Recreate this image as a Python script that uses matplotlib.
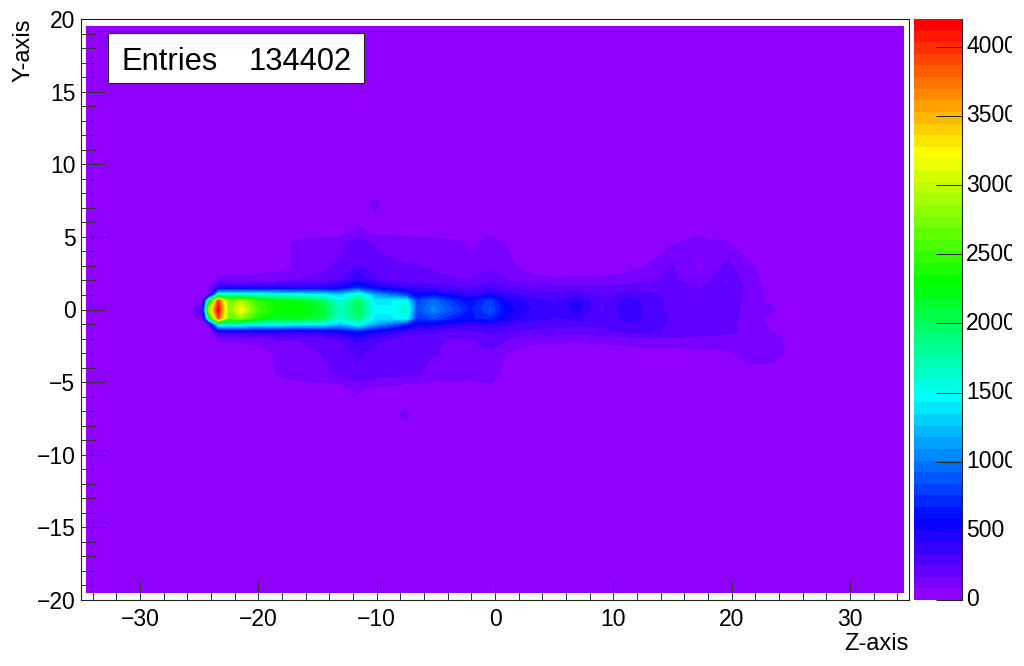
import numpy as np
from matplotlib import pyplot as plt
from matplotlib.colors import LinearSegmentedColormap, BoundaryNorm
from matplotlib.patches import Rectangle
from matplotlib.ticker import MultipleLocator
from matplotlib.transforms import Bbox

plt.rcParams['font.family'] = ['Liberation Sans', 'DejaVu Sans']

# bin positions
z_pos = [-26, -24.7, -24.2, -23.4, -22.5, -21.5, -20, -18.2, -16.8, -14.6, -13.1, -11.6, -10.1, -8.9, -7.5, -6.6,
         -5.2, -3.2, -2.1, -0.4, 1, 3, 5, 7, 9, 11.4, 13, 15, 17.3, 19.6, 21.5, 23.5, 25.5]
y_pos = [-8.5, -7.3, -5.5, -4.5, -3, -2, -1.5, -1, -0.6, 0, 0.6, 1, 1.5, 2, 3, 4.5, 5.5, 7.3, 8.5]

# counts per row, one value per z_pos
row_m85 = [0] * 33
row_m73 = [0, 0, 0, 0, 0, 0, 0, 0, 0, 0, 0, 0, 10, 40, 110, 30, 0, 0, 0, 0, 0, 0, 0, 0, 0, 0, 0, 0, 0, 0, 0, 0, 0]
row_m55 = [0, 0, 0, 0, 0, 0, 0, 0, 10, 20, 30, 100, 50, 40, 30, 20, 10, 10, 10, 20, 0, 0, 0, 0, 0, 0, 0, 0, 0, 0, 0, 0, 0]
row_m45 = [0, 0, 0, 0, 0, 0, 0, 100, 130, 160, 170, 230, 200, 190, 170, 170, 150, 150, 120, 160, 30, 0, 0, 0, 0, 0, 0, 0, 0, 30, 40, 0, 0]
row_m30 = [0, 0, 0, 10, 20, 20, 30, 110, 140, 170, 200, 270, 220, 210, 190, 170, 170, 160, 130, 160, 80, 20, 10, 20, 10, 30, 40, 30, 60, 70, 130, 150, 20]
row_m20 = [0, 0, 10, 100, 110, 110, 130, 180, 170, 200, 260, 400, 290, 240, 200, 190, 180, 160, 170, 200, 180, 130, 120, 110, 120, 140, 160, 160, 150, 130, 120, 120, 30]
row_m15 = [0, 0, 40, 400, 440, 420, 420, 420, 420, 430, 500, 650, 500, 430, 340, 310, 280, 240, 240, 280, 260, 230, 220, 200, 230, 280, 270, 230, 200, 200, 130, 80, 0]
row_m10 = [0, 0, 150, 1600, 1650, 1600, 1500, 1500, 1450, 1450, 1250, 1500, 1150, 950, 700, 520, 500, 400, 350, 380, 350, 300, 280, 280, 270, 320, 280, 240, 220, 220, 110, 70, 0]
row_m06 = [0, 150, 1800, 3900, 2600, 2800, 2350, 2150, 2250, 2050, 1600, 1900, 1400, 1400, 1500, 750, 850, 650, 650, 720, 500, 380, 330, 350, 260, 390, 310, 240, 200, 230, 110, 60, 0]
row_p00 = [0, 300, 2900, 4150, 2750, 3250, 2550, 2300, 2350, 2150, 1650, 2050, 1450, 1450, 1650, 850, 1050, 800, 650, 850, 550, 420, 350, 460, 230, 400, 300, 220, 180, 230, 120, 100, 0]
row_p06 = [0, 150, 1800, 3900, 2700, 2900, 2450, 2250, 2250, 2000, 1550, 1950, 1400, 1400, 1500, 800, 950, 700, 600, 800, 500, 380, 320, 420, 250, 380, 300, 230, 170, 240, 130, 60, 0]
row_p10 = [0, 0, 150, 1600, 1650, 1600, 1600, 1550, 1500, 1450, 1300, 1650, 1150, 1000, 800, 580, 620, 450, 350, 480, 350, 300, 280, 320, 230, 300, 270, 240, 180, 250, 120, 50, 0]
row_p15 = [0, 0, 40, 400, 450, 440, 430, 430, 430, 440, 500, 720, 500, 430, 360, 330, 300, 260, 240, 320, 260, 220, 190, 200, 190, 220, 230, 220, 160, 260, 140, 40, 0]
row_p20 = [0, 0, 10, 110, 120, 120, 130, 150, 170, 190, 260, 430, 280, 250, 200, 190, 180, 170, 170, 210, 170, 130, 100, 100, 100, 120, 160, 180, 130, 230, 130, 30, 0]
row_p30 = [0, 0, 0, 10, 20, 20, 30, 40, 100, 150, 180, 260, 190, 180, 170, 170, 160, 150, 130, 150, 110, 30, 20, 40, 30, 60, 90, 170, 60, 190, 100, 20, 0]
row_p45 = [0, 0, 0, 0, 0, 0, 0, 10, 120, 140, 150, 220, 160, 150, 150, 140, 130, 120, 60, 150, 80, 0, 0, 0, 0, 0, 20, 80, 150, 100, 20, 0, 0]
row_p55 = [0, 0, 0, 0, 0, 0, 0, 0, 10, 10, 20, 100, 40, 40, 20, 20, 10, 10, 10, 30, 0, 0, 0, 0, 0, 0, 0, 0, 20, 0, 0, 0, 0]
row_p73 = [0, 0, 0, 0, 0, 0, 0, 0, 0, 0, 30, 40, 110, 20, 0, 0, 0, 0, 0, 0, 0, 0, 0, 0, 0, 0, 0, 0, 0, 0, 0, 0, 0]
row_p85 = [0] * 33

z_tick_labels = [-30, -20, -10, 0, 10, 20, 30]
y_tick_labels = [-20, -15, -10, -5, 0, 5, 10, 15, 20]
color_ticks = [0, 500, 1000, 1500, 2000, 2500, 3000, 3500, 4000]
entries = 134402
count_max = 4200
n_contours = 50

W, H = 1024, 666


def px_axes(fig, left, top, right, bottom):
    return fig.add_axes([left / W, 1 - bottom / H, (right - left) / W, (bottom - top) / H])


counts = np.array([row_m85, row_m73, row_m55, row_m45, row_m30, row_m20, row_m15, row_m10, row_m06, row_p00,
                   row_p06, row_p10, row_p15, row_p20, row_p30, row_p45, row_p55, row_p73, row_p85], dtype=float)
# everything outside the listed bins is empty, up to the edge of the histogram
counts = np.pad(counts, 1)
z_grid = [-34.5] + z_pos + [34.5]
y_grid = [-19.5] + y_pos + [19.5]

# ROOT rainbow palette, cut into 50 bands
rainbow = LinearSegmentedColormap.from_list("root_rainbow", [
    (0.0, "#8f00ff"), (550 / count_max, "#0000ff"), (1450 / count_max, "#00ffff"),
    (2300 / count_max, "#00ff00"), (3250 / count_max, "#ffff00"), (1.0, "#ff0000")], N=n_contours)
levels = np.linspace(0, count_max, n_contours + 1)
norm = BoundaryNorm(levels, n_contours)

fig = plt.figure(figsize=(W / 100, H / 100), dpi=100)
ax = px_axes(fig, 81, 19, 909, 600)
ax.contourf(z_grid, y_grid, counts, levels=levels, cmap=rainbow, norm=norm, extend="max")
ax.set_xlim(-35, 35)
ax.set_ylim(-20, 20)

ax.set_xticks(z_tick_labels)
ax.set_yticks(y_tick_labels)
ax.set_xticklabels([str(v).replace("-", "\u2212") for v in z_tick_labels])
ax.set_yticklabels([str(v).replace("-", "\u2212") for v in y_tick_labels])
ax.xaxis.set_minor_locator(MultipleLocator(2))
ax.yaxis.set_minor_locator(MultipleLocator(1))
ax.tick_params(axis="x", which="major", direction="in", length=13, width=0.7, color="#333333", labelsize=16.5, pad=6)
ax.tick_params(axis="x", which="minor", direction="in", length=6.5, width=0.7, color="#333333")
ax.tick_params(axis="y", which="major", direction="in", length=17, width=0.7, color="#333333", labelsize=16.5, pad=4)
ax.tick_params(axis="y", which="minor", direction="in", length=10, width=0.7, color="#333333")
for spine in ax.spines.values():
    spine.set_linewidth(0.8)
    spine.set_color("#222222")

fig.text(909 / W, 1 - 650 / H, "Z-axis", ha="right", va="baseline", fontsize=17)
fig.text(35 / W, 1 - 19 / H, "Y-axis", ha="right", va="top", rotation=90, fontsize=17, rotation_mode="default")

# stats box
fig.add_artist(Rectangle((108 / W, 1 - 83 / H), 256 / W, 50 / H, transform=fig.transFigure,
                         facecolor="white", edgecolor="#222222", linewidth=0.8, zorder=5))
fig.text(121 / W, 1 - 70 / H, "Entries", fontsize=22.2, va="baseline", zorder=6)
fig.text(352 / W, 1 - 70 / H, str(entries), fontsize=22.2, va="baseline", ha="right", zorder=6)

# palette, with labels cut off by the pad edge as in the original
cax = px_axes(fig, 914, 19, 962, 600)
cax.pcolormesh([0, 1], levels, np.arange(n_contours).reshape(-1, 1), cmap=rainbow, vmin=0, vmax=n_contours - 1)
cax.set_ylim(0, count_max)
cax.set_xticks([])
cax.yaxis.tick_right()
cax.set_yticks(color_ticks)
cax.set_yticklabels([])
cax.tick_params(axis="y", direction="in", length=19, width=0.7, color="#222222")
for name, spine in cax.spines.items():
    spine.set_visible(name == "right")
    spine.set_linewidth(0.8)
    spine.set_color("#222222")

clip = Bbox.from_extents(0, 0, 1012, H)
for value in color_ticks:
    label = fig.text(0, 0, str(value), fontsize=16.5, va="center", clip_on=True)
    label.set_transform(cax.get_yaxis_transform())
    label.set_position((1.09, value))
    label.set_clip_box(clip)

fig.savefig("out.png", dpi=100)
